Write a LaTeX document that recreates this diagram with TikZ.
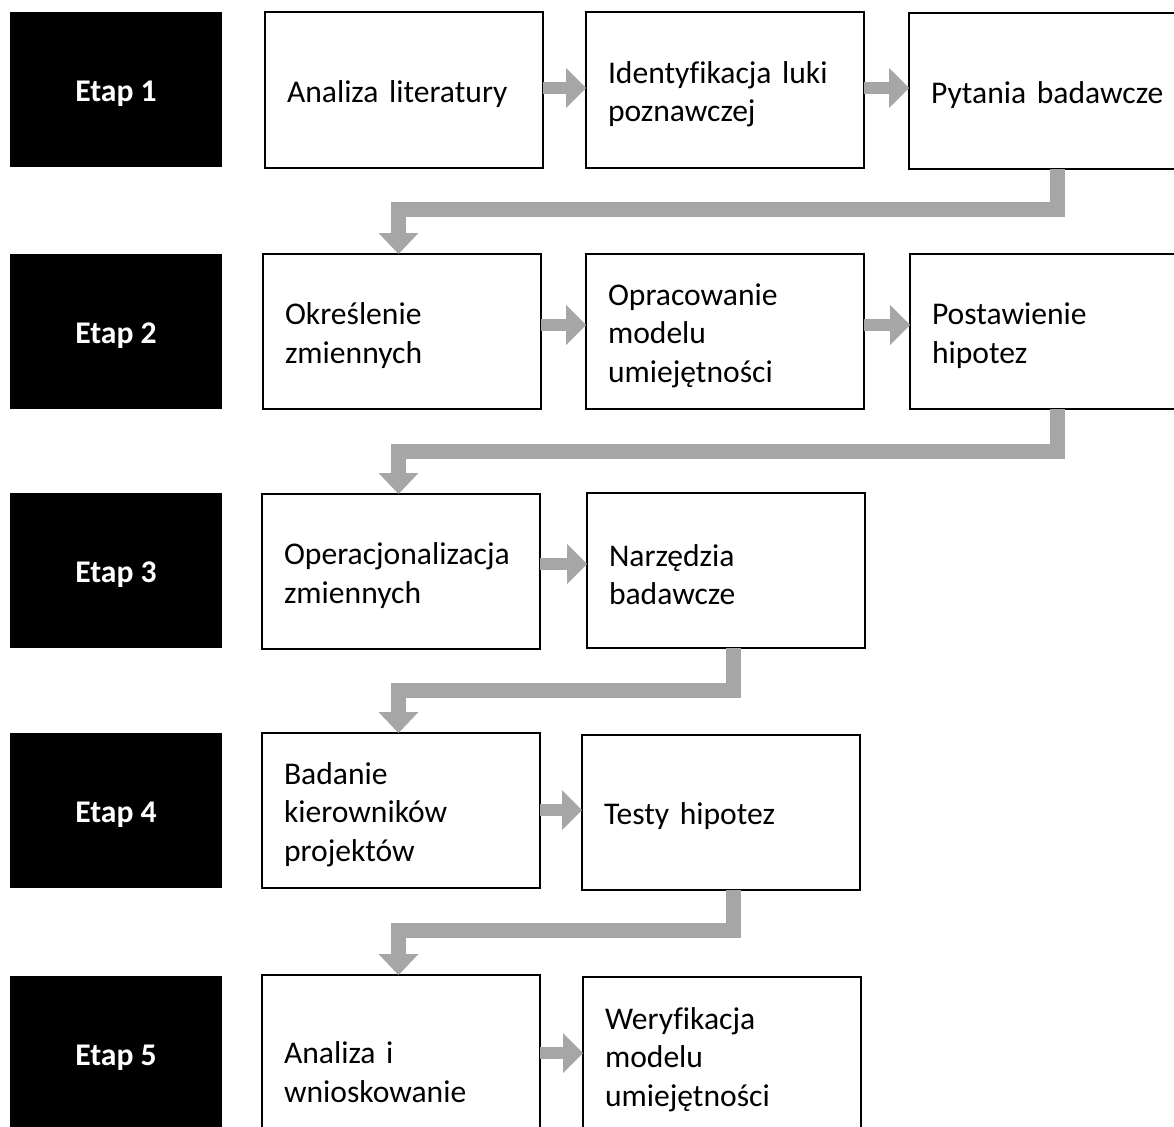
\documentclass[tikz,border=0pt]{standalone}
\usepackage{fontspec}
\setmainfont{Carlito}[Ligatures=NoCommon]
\usetikzlibrary{arrows.meta}
\definecolor{flowgray}{RGB}{166,166,166}
\begin{document}
\begin{tikzpicture}[x=1pt,y=-1pt,
  bodyfont/.style={font=\fontsize{31.6}{38.5}\selectfont},
  stage/.style={bodyfont, fill=black, text=white, font=\fontsize{31.6}{38.5}\selectfont\bfseries,
    anchor=north west, inner sep=0pt, outer sep=0pt,
    minimum width=212pt, minimum height=155pt,
    execute at begin node={\rule{0pt}{29pt}}},
  task/.style={bodyfont, draw=black, line width=2.2pt, fill=white,
    anchor=north west, align=left, text width=234pt,
    inner xsep=22pt, inner ysep=0pt, outer sep=0pt,
    minimum width=278pt, minimum height=155pt,
    execute at begin node={\rule{0pt}{30pt}}},
  flow/.style={draw=flowgray, line width=12.5pt,
    -{Triangle[width=40pt,length=20pt,line width=0pt]}},
  drop/.style={draw=flowgray, line width=15pt, line join=miter,
    -{Triangle[width=40pt,length=21pt,line width=0pt]}}]
\useasboundingbox (0,0) rectangle (1174,1126);
\clip (0,0) rectangle (1174,1126);

% stage labels
\node[stage] (s1) at (10,12)  {Etap 1};
\node[stage] (s2) at (10,254) {Etap 2};
\node[stage] (s3) at (10,493) {Etap 3};
\node[stage] (s4) at (10,733) {Etap 4};
\node[stage] (s5) at (10,976) {Etap 5};

% stage 1
\node[task, minimum height=156pt] (a1) at (265,12) {Analiza literatury};
\node[task, minimum height=156pt] (a2) at (586,12) {Identyfikacja luki\\poznawczej};
\node[task, minimum height=156pt] (a3) at (909,13) {Pytania badawcze};
% stage 2
\node[task] (b1) at (263,254) {Określenie\\zmiennych};
\node[task] (b2) at (586,254) {Opracowanie\\modelu\\umiejętności};
\node[task] (b3) at (910,254) {Postawienie\\hipotez};
% stage 3
\node[task] (c1) at (262,494) {Operacjonalizacja\\zmiennych};
\node[task] (c2) at (587,493) {Narzędzia\\badawcze};
% stage 4
\node[task] (d1) at (262,733) {Badanie\\kierowników\\projektów};
\node[task] (d2) at (582,735) {Testy hipotez};
% stage 5
\node[task, minimum height=186pt] (e1) at (262,975) {Analiza i\\wnioskowanie};
\node[task, minimum height=157pt] (e2) at (583,977) {Weryfikacja\\modelu\\umiejętności};

% levels of the arrows within each stage
\coordinate (h1) at (0,88);
\coordinate (h2) at (0,325);
\coordinate (h3) at (0,564);
\coordinate (h4) at (0,810);
\coordinate (h5) at (0,1053);

\draw[flow] (a1.east |- h1) -- (a2.west |- h1);
\draw[flow] (a2.east |- h1) -- (a3.west |- h1);
\draw[flow] (b1.east |- h2) -- (b2.west |- h2);
\draw[flow] (b2.east |- h2) -- (b3.west |- h2);
\draw[flow] (c1.east |- h3) -- (c2.west |- h3);
\draw[flow] (d1.east |- h4) -- (d2.west |- h4);
\draw[flow] (e1.east |- h5) -- (e2.west |- h5);

% bends of the connectors between stages
\coordinate (k1) at (1057,209.5);  \coordinate (l1) at (398.5,209.5);
\coordinate (k2) at (1057,451);    \coordinate (l2) at (398.5,451);
\coordinate (k3) at (733,690);     \coordinate (l3) at (398.5,690);
\coordinate (k4) at (733,930);     \coordinate (l4) at (398.5,930);

\draw[drop] (a3.south -| k1) -- (k1) -- (l1) -- (b1.north -| l1);
\draw[drop] (b3.south -| k2) -- (k2) -- (l2) -- (c1.north -| l2);
\draw[drop] (c2.south -| k3) -- (k3) -- (l3) -- (d1.north -| l3);
\draw[drop] (d2.south -| k4) -- (k4) -- (l4) -- (e1.north -| l4);
\end{tikzpicture}
\end{document}
